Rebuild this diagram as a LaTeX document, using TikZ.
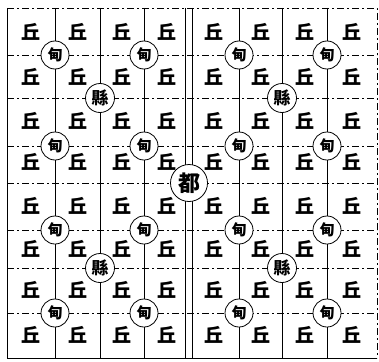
\documentclass[tikz,border=0pt]{standalone}
\usepackage{fontspec}
\newfontfamily\cjk{Noto Sans CJK TC}
\begin{document}
\begin{tikzpicture}[x=1pt,y=-1pt,
  solidline/.style={line width=0.7pt},
  dashline/.style={line width=0.7pt,dash pattern=on 7pt off 3pt on 2pt off 3pt},
  qiu/.style={font=\cjk\bfseries\fontsize{19}{19}\selectfont,inner sep=0pt},
  dian/.style={circle,draw,line width=0.8pt,fill=white,minimum size=28pt,inner sep=0pt,font=\cjk\bfseries\fontsize{15}{15}\selectfont},
  xian/.style={circle,draw,line width=0.8pt,fill=white,minimum size=29pt,inner sep=0pt,font=\cjk\bfseries\fontsize{17}{17}\selectfont},
  du/.style={circle,draw,line width=0.8pt,fill=white,minimum size=37pt,inner sep=0pt,font=\cjk\bfseries\fontsize{22}{22}\selectfont}]
\useasboundingbox (0,0) rectangle (379,361);
% outer border
\draw[solidline] (7,8) -- (7,358) -- (377,358);
\draw[dashline] (7,8) -- (377,8) -- (377,358);
% interior vertical lines
\foreach \x in {55,100,144,239,282,327}
  \draw[solidline] (\x,8) -- (\x,358);
\draw[solidline] (185.5,8) -- (185.5,358);
\draw[solidline] (192.5,8) -- (192.5,358);
% horizontal lines
\foreach \y in {55,98,146,183,230,268,313}
  \draw[dashline] (7,\y) -- (377,\y);
% qiu characters
\foreach \x in {31,77.5,122,166.5,214,260.5,304.5,352}
  \foreach \y in {32,77,121,162,206,249,290,335}
    \node[qiu] at (\x,\y) {丘};
% dian circles
\foreach \n/\x/\y in {1/55/55,2/144/55,3/55/146,4/144/146,5/239/55,6/327/55,7/239/146,8/327/146,9/55/230,10/144/230,11/55/313,12/144/313,13/239/230,14/327/230,15/239/313,16/327/313}
  \node[dian] (d\n) at (\x,\y) {甸};
% xian circles
\foreach \n/\x/\y in {1/100/98,2/282/98,3/100/268,4/282/268}
  \node[xian] (x\n) at (\x,\y) {縣};
% du circle
\node[du] (du) at (189,183) {都};
\end{tikzpicture}
\end{document}
